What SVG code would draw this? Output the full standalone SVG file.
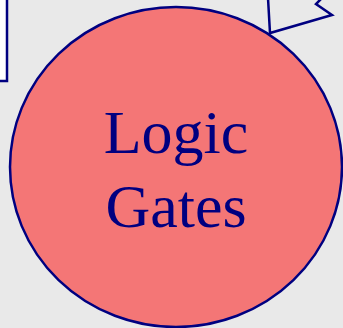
<svg xmlns="http://www.w3.org/2000/svg" width="343" height="328" viewBox="0 0 343 328">
<style>
.ln{stroke:#000080;stroke-width:2.5;fill:none}
.lbl{font-family:"Liberation Serif","Times New Roman",serif;font-size:62px;fill:#000080;text-anchor:middle}
</style>
<rect width="343" height="328" fill="#e9e9e9"/>
<g id="connectors">
<polyline class="ln" points="268,-2 270,33 332,15 316,4 322,-2"/>
</g>
<g id="left-box">
<rect x="-20" y="-10" width="27" height="91" fill="#ffffff" stroke="#000080" stroke-width="2.5"/>
</g>
<g id="logic-gates">
<ellipse cx="176" cy="167" rx="166" ry="160" fill="#f47676" stroke="#000080" stroke-width="2.5"/>
<text class="lbl" x="176" y="153">Logic</text>
<text class="lbl" x="176" y="227">Gates</text>
</g>
</svg>
